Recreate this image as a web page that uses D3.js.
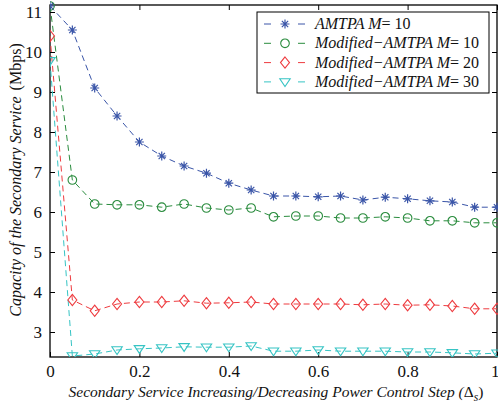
<!DOCTYPE html>
<html>
<head>
<meta charset="utf-8">
<script src="https://cdn.jsdelivr.net/npm/d3@7"></script>
<style>
  body { margin: 0; background: #fff; }
  svg { display: block; }
</style>
</head>
<body>
<svg id="chart" width="498" height="405"></svg>
<script>
// step values (x axis)
var steps = [0, 0.05, 0.1, 0.15, 0.2, 0.25, 0.3, 0.35, 0.4, 0.45, 0.5,
             0.55, 0.6, 0.65, 0.7, 0.75, 0.8, 0.85, 0.9, 0.95, 1]

var amtpa10 = [11.15, 10.55, 9.1, 8.4, 7.75, 7.4, 7.15, 6.97, 6.72, 6.55, 6.4,
               6.4, 6.38, 6.4, 6.3, 6.37, 6.33, 6.28, 6.25, 6.12, 6.12]
var mod10 = [11.15, 6.8, 6.2, 6.18, 6.18, 6.12, 6.2, 6.1, 6.05, 6.1, 5.88,
             5.9, 5.9, 5.85, 5.85, 5.88, 5.85, 5.78, 5.78, 5.73, 5.73]
var mod20 = [10.4, 3.8, 3.53, 3.7, 3.75, 3.75, 3.78, 3.72, 3.73, 3.75, 3.7,
             3.7, 3.7, 3.7, 3.68, 3.7, 3.67, 3.68, 3.65, 3.58, 3.58]
var mod30 = [9.78, 2.4, 2.45, 2.55, 2.58, 2.6, 2.63, 2.62, 2.62, 2.65, 2.52,
             2.52, 2.55, 2.52, 2.52, 2.52, 2.5, 2.5, 2.48, 2.45, 2.47]

var xTicks = [0, 0.2, 0.4, 0.6, 0.8, 1]
var yTicks = [3, 4, 5, 6, 7, 8, 9, 10, 11]

var seriesNames = ["AMTPA", "Modified\u2212AMTPA", "Modified\u2212AMTPA", "Modified\u2212AMTPA"]
var seriesM = ["10", "10", "20", "30"]
var seriesColors = ["#3a55a8", "#2a8c3e", "#ee3b3f", "#36c4c4"]
var seriesMarkers = ["star", "circle", "diamond", "triangle"]

var series = [amtpa10, mod10, mod20, mod30].map((vals, i) => ({
    name: seriesNames[i],
    m: seriesM[i],
    color: seriesColors[i],
    marker: seriesMarkers[i],
    values: vals.map((v, j) => ({ x: steps[j], y: v }))
}))

var FONT = "Liberation Serif"
var margin = { left: 50, right: 1, top: 5, bottom: 48 }
var width = 498, height = 405
var svg = d3.select("#chart")

var x = d3.scaleLinear().domain([0, 1]).range([margin.left, width - margin.right])
var y = d3.scaleLinear().domain([2.375, 11.175]).range([height - margin.bottom, margin.top])

var x0 = x.range()[0], x1 = x.range()[1], y0 = y.range()[0], y1 = y.range()[1]

svg.append("defs").append("clipPath").attr("id", "clip")
    .append("rect").attr("x", x0).attr("y", y1 - 8).attr("width", x1 - x0 + 8).attr("height", y0 - y1 + 8)

// axes with inward ticks
var tickLen = 5
svg.append("g").attr("transform", `translate(0,${y0})`)
    .call(d3.axisBottom(x).tickValues(xTicks).tickSizeInner(-tickLen).tickSizeOuter(0)
        .tickPadding(8).tickFormat(d => d3.format("")(d)))
svg.append("g").attr("transform", `translate(0,${y1})`)
    .call(d3.axisTop(x).tickValues(xTicks).tickSizeInner(-tickLen).tickSizeOuter(0).tickFormat(""))
svg.append("g").attr("transform", `translate(${x0},0)`)
    .call(d3.axisLeft(y).tickValues(yTicks).tickSizeInner(-tickLen).tickSizeOuter(0).tickPadding(8))
svg.append("g").attr("transform", `translate(${x1},0)`)
    .call(d3.axisRight(y).tickValues(yTicks).tickSizeInner(-tickLen).tickSizeOuter(0).tickFormat(""))

svg.selectAll(".domain").remove()
svg.selectAll(".tick line").attr("stroke", "#000").attr("stroke-width", 1)
svg.selectAll(".tick text").attr("font-size", 17).attr("fill", "#111").attr("font-family", FONT)
// last x label sits at the right edge, keep it inside the picture
svg.selectAll(".tick text").filter(d => d === 1).attr("text-anchor", "end").attr("dx", 2)

svg.append("rect").attr("x", x0).attr("y", y1).attr("width", x1 - x0).attr("height", y0 - y1)
    .attr("fill", "none").attr("stroke", "#000").attr("stroke-width", 1.3)

// markers
function drawMarker(g, type, color) {
    if (type == "star") {
        var r = 4.5
        g.append("path")
            .attr("d", `M${-r},0L${r},0M0,${-r}L0,${r}M${-r*0.7},${-r*0.7}L${r*0.7},${r*0.7}M${-r*0.7},${r*0.7}L${r*0.7},${-r*0.7}`)
            .attr("stroke", color).attr("stroke-width", 1.2).attr("fill", "none")
    } else if (type == "circle") {
        g.append("circle").attr("r", 4.3).attr("stroke", color).attr("stroke-width", 1.1).attr("fill", "none")
    } else if (type == "diamond") {
        g.append("path").attr("d", "M0,-5.6L4.5,0L0,5.6L-4.5,0Z")
            .attr("stroke", color).attr("stroke-width", 1.1).attr("fill", "none")
    } else {
        g.append("path").attr("d", "M-5.2,-3.2L5.2,-3.2L0,4.6Z")
            .attr("stroke", color).attr("stroke-width", 1.1).attr("fill", "none")
    }
}

var line = d3.line().x(d => x(d.x)).y(d => y(d.y))
var plot = svg.append("g").attr("clip-path", "url(#clip)")

series.forEach(s => {
    plot.append("path").datum(s.values)
        .attr("d", line)
        .attr("fill", "none")
        .attr("stroke", s.color)
        .attr("stroke-width", 1)
        .attr("stroke-dasharray", "6,4")
})
series.slice().reverse().forEach(s => {
    plot.selectAll(null).data(s.values).enter().append("g")
        .attr("transform", d => `translate(${x(d.x)},${y(d.y)})`)
        .each(function() { drawMarker(d3.select(this), s.marker, s.color) })
})

// legend
var leg = svg.append("g")
leg.append("rect").attr("x", 257).attr("y", 12).attr("width", 232).attr("height", 81)
    .attr("fill", "#fff").attr("stroke", "#000").attr("stroke-width", 1)
series.forEach((s, i) => {
    var ly = 24 + i * 19.3
    leg.append("line").attr("x1", 264).attr("x2", 305).attr("y1", ly).attr("y2", ly)
        .attr("stroke", s.color).attr("stroke-width", 1).attr("stroke-dasharray", "7,27")
    drawMarker(leg.append("g").attr("transform", `translate(285,${ly})`), s.marker, s.color)
    var t = leg.append("text").attr("x", 315).attr("y", ly + 5).attr("font-size", 16)
        .attr("fill", "#111").attr("font-family", FONT)
    t.append("tspan").attr("font-style", "italic").text(s.name + " M")
    t.append("tspan").text("= " + s.m)
})

// axis titles
var xt = svg.append("text").attr("x", 276).attr("y", 397).attr("text-anchor", "middle")
    .attr("font-size", 15.5).attr("fill", "#111").attr("font-family", FONT)
xt.append("tspan").attr("font-style", "italic").text("Secondary Service Increasing/Decreasing Power Control Step (")
xt.append("tspan").text("\u0394")
xt.append("tspan").attr("font-style", "italic").attr("font-size", 11.5).attr("dy", 4).text("s")
xt.append("tspan").attr("dy", -4).text(")")

var yt = svg.append("text").attr("transform", "translate(21,180) rotate(-90)").attr("text-anchor", "middle")
    .attr("font-size", 16).attr("fill", "#111").attr("font-family", FONT)
yt.append("tspan").attr("font-style", "italic").text("Capacity of the Secondary Service")
yt.append("tspan").attr("dx", 6).text("(Mbps)")
</script>
</body>
</html>
